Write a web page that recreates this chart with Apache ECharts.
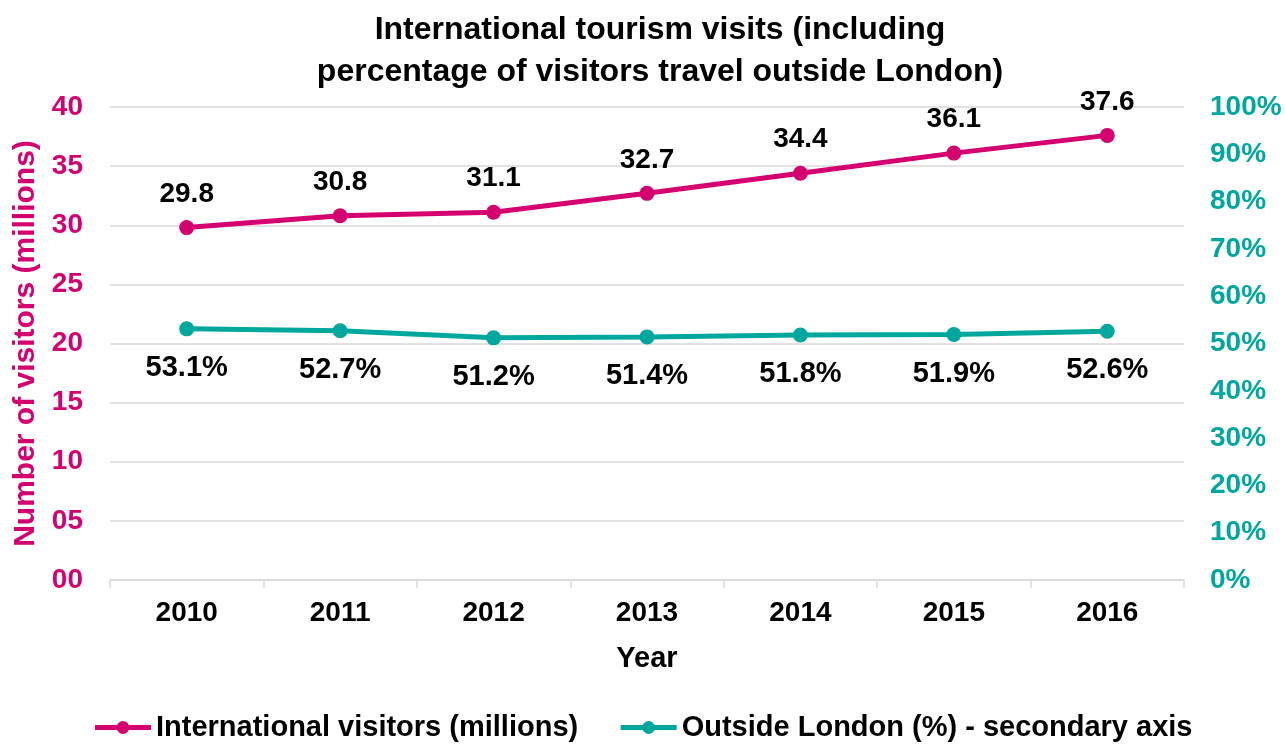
<!DOCTYPE html>
<html>
<head>
<meta charset="utf-8">
<script src="https://cdn.jsdelivr.net/npm/echarts@6/dist/echarts.min.js"></script>
<style>
  html, body { margin: 0; padding: 0; background: #fff; }
  #chart { width: 1285px; height: 744px; }
</style>
</head>
<body>
<div id="chart"></div>
<script>
// Years on the category axis
const years = ['2010', '2011', '2012', '2013', '2014', '2015', '2016'];
// International visitors, millions
const visitors = [29.8, 30.8, 31.1, 32.7, 34.4, 36.1, 37.6];
// Share of visitors travelling outside London, percent
const outsideLondon = [53.1, 52.7, 51.2, 51.4, 51.8, 51.9, 52.6];

const MAGENTA = '#d5006f';
const TEAL = '#00a79d';
const FONT = '"Liberation Sans", Arial, sans-serif';

const chart = echarts.init(document.getElementById('chart'));

chart.setOption({
  animation: false,
  textStyle: { fontFamily: FONT },
  title: {
    text: 'International tourism visits (including\npercentage of visitors travel outside London)',
    left: 655,
    textAlign: 'center',
    top: 4,
    textStyle: { fontFamily: FONT, fontSize: 32, fontWeight: 'bold', color: '#000', lineHeight: 42 }
  },
  legend: {
    bottom: -3,
    left: 'center',
    itemWidth: 56,
    itemHeight: 16,
    itemGap: 40,
    lineStyle: { width: 5 },
    textStyle: { fontFamily: FONT, fontSize: 29, fontWeight: 'bold', color: '#000' },
    data: ['International visitors (millions)', 'Outside London (%) - secondary axis']
  },
  grid: { left: 110, right: 101, top: 107, bottom: 164, outerBoundsMode: 'none', containLabel: false },
  xAxis: {
    type: 'category',
    data: years,
    boundaryGap: true,
    name: 'Year',
    nameLocation: 'middle',
    nameGap: 64,
    nameTextStyle: { fontFamily: FONT, fontSize: 29, fontWeight: 'bold', color: '#000' },
    axisLine: { lineStyle: { color: '#d9d9d9', width: 1.5 } },
    axisTick: { show: true, length: 8, lineStyle: { color: '#d9d9d9', width: 1.5 } },
    axisLabel: { fontFamily: FONT, fontSize: 28, fontWeight: 'bold', color: '#000', margin: 19 }
  },
  yAxis: [
    {
      type: 'value',
      min: 0, max: 40, interval: 5,
      name: 'Number of visitors (millions)',
      nameLocation: 'middle',
      nameGap: 60,
      nameTextStyle: { fontFamily: FONT, fontSize: 30, fontWeight: 'bold', color: MAGENTA },
      axisLine: { show: false },
      axisTick: { show: false },
      splitLine: { lineStyle: { color: '#d9d9d9', width: 1.5 } },
      axisLabel: {
        fontFamily: FONT, fontSize: 28, fontWeight: 'bold', color: MAGENTA, margin: 27,
        formatter: v => String(v).padStart(2, '0')
      }
    },
    {
      type: 'value',
      min: 0, max: 100, interval: 10,
      position: 'right',
      axisLine: { show: false },
      axisTick: { show: false },
      splitLine: { show: false },
      axisLabel: {
        fontFamily: FONT, fontSize: 28, fontWeight: 'bold', color: TEAL, margin: 26,
        formatter: v => v + '%'
      }
    }
  ],
  series: [
    {
      name: 'International visitors (millions)',
      type: 'line',
      yAxisIndex: 0,
      data: visitors,
      symbol: 'circle',
      symbolSize: 15,
      lineStyle: { color: MAGENTA, width: 5 },
      itemStyle: { color: MAGENTA },
      label: {
        show: true, position: 'top', distance: 12,
        fontFamily: FONT, fontSize: 28, fontWeight: 'bold', color: '#000',
        formatter: p => p.value.toFixed(1)
      }
    },
    {
      name: 'Outside London (%) - secondary axis',
      type: 'line',
      yAxisIndex: 1,
      data: outsideLondon,
      symbol: 'circle',
      symbolSize: 15,
      lineStyle: { color: TEAL, width: 5 },
      itemStyle: { color: TEAL },
      label: {
        show: true, position: 'bottom', distance: 17,
        fontFamily: FONT, fontSize: 29, fontWeight: 'bold', color: '#000',
        formatter: p => p.value.toFixed(1) + '%'
      }
    }
  ]
});
</script>
</body>
</html>
